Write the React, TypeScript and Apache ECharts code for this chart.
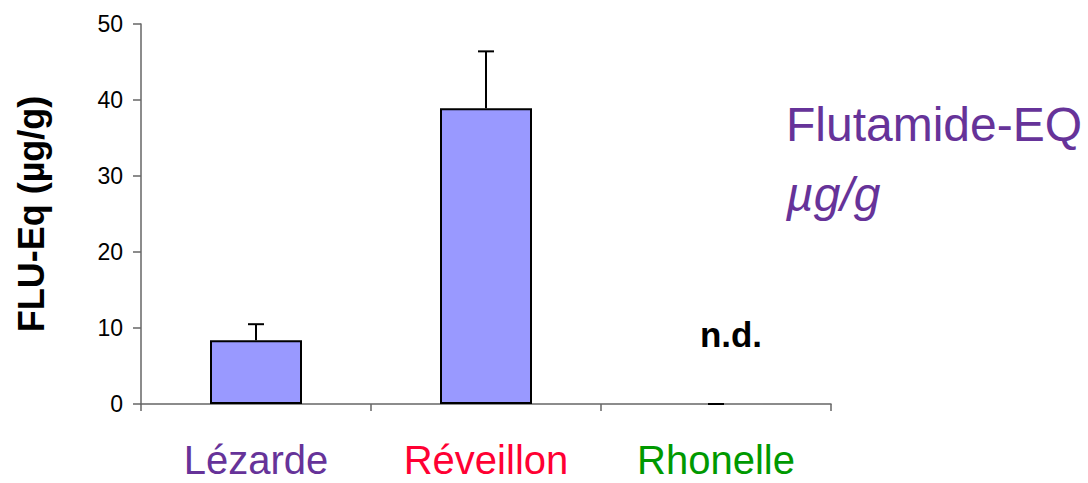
import React, { useEffect, useRef } from "react";
import * as echarts from "echarts";

const categories = ["Lézarde", "Réveillon", "Rhonelle"];
const categoryColors = ["#663399", "#FF0033", "#009900"];
const values = [8.4, 38.9, 0];
const errors = [2.1, 7.5, 0];
const yTicks = [0, 10, 20, 30, 40, 50];

export default function App() {
  const ref = useRef<HTMLDivElement>(null);
  useEffect(() => {
    if (!ref.current) return;
    const chart = echarts.init(ref.current, null, { renderer: "svg" });
    const font = "Liberation Sans, Arial, sans-serif";
    chart.setOption({
      animation: false,
      grid: {
        left: 141,
        top: 24,
        right: 257,
        bottom: 79,
        containLabel: false,
        outerBoundsMode: "none",
      },
      xAxis: {
        type: "category",
        data: categories,
        boundaryGap: true,
        axisLine: { lineStyle: { color: "#666", width: 1.5 } },
        axisTick: { show: true, interval: 0, length: 7, lineStyle: { color: "#666", width: 1.5 } },
        axisLabel: {
          interval: 0,
          margin: 36,
          lineHeight: 40,
          fontFamily: font,
          fontSize: 40,
          color: (_v: string, i: number) => categoryColors[i],
        },
      },
      yAxis: {
        type: "value",
        min: yTicks[0],
        max: yTicks[yTicks.length - 1],
        interval: 10,
        name: "FLU-Eq (µg/g)",
        nameLocation: "middle",
        nameGap: 92,
        nameTextStyle: { fontFamily: font, fontSize: 36, fontWeight: "bold", color: "#000" },
        axisLine: { show: true, lineStyle: { color: "#666", width: 1.5 } },
        axisTick: { show: true, length: 8, lineStyle: { color: "#666", width: 1.5 } },
        splitLine: { show: false },
        axisLabel: { fontFamily: font, fontSize: 23, color: "#000", margin: 18 },
      },
      series: [
        {
          type: "bar",
          data: values.map((v) =>
            v === 0 ? { value: v, itemStyle: { borderWidth: 0, color: "transparent" } } : v
          ),
          barWidth: "40%",
          itemStyle: { color: "#9999FF", borderColor: "#000", borderWidth: 2 },
          label: {
            show: true,
            position: "top",
            distance: 52,
            formatter: (p: any) => (p.value === 0 ? "n.d." : ""),
            fontFamily: font,
            fontSize: 35,
            fontWeight: "bold",
            color: "#000",
            offset: [15, 0],
          },
        },
        {
          type: "custom",
          data: values.map((v, i) => [i, v, v + errors[i]]),
          z: 1,
          renderItem: (_params: any, api: any) => {
            const i = api.value(0);
            const lo = api.coord([i, api.value(1)]);
            const hi = api.coord([i, api.value(2)]);
            const half = 8;
            return {
              type: "group",
              children: [
                {
                  type: "line",
                  shape: { x1: lo[0], y1: lo[1], x2: hi[0], y2: hi[1] },
                  style: { stroke: "#000", lineWidth: 2 },
                },
                {
                  type: "line",
                  shape: { x1: hi[0] - half, y1: hi[1], x2: hi[0] + half, y2: hi[1] },
                  style: { stroke: "#000", lineWidth: 2 },
                },
              ],
            };
          },
        },
      ],
      graphic: [
        {
          type: "text",
          left: 786,
          top: 100,
          style: { text: "Flutamide-EQ", fontFamily: font, fontSize: 48, fill: "#663399" },
        },
        {
          type: "text",
          left: 786,
          top: 170,
          style: { text: "µg/g", fontFamily: font, fontSize: 48, fontStyle: "italic", fill: "#663399" },
        },
      ],
    });
    return () => chart.dispose();
  }, []);
  return (
    <div
      ref={ref}
      style={{ position: "fixed", left: 0, top: 0, width: 1088, height: 483, background: "#fff" }}
    />
  );
}
